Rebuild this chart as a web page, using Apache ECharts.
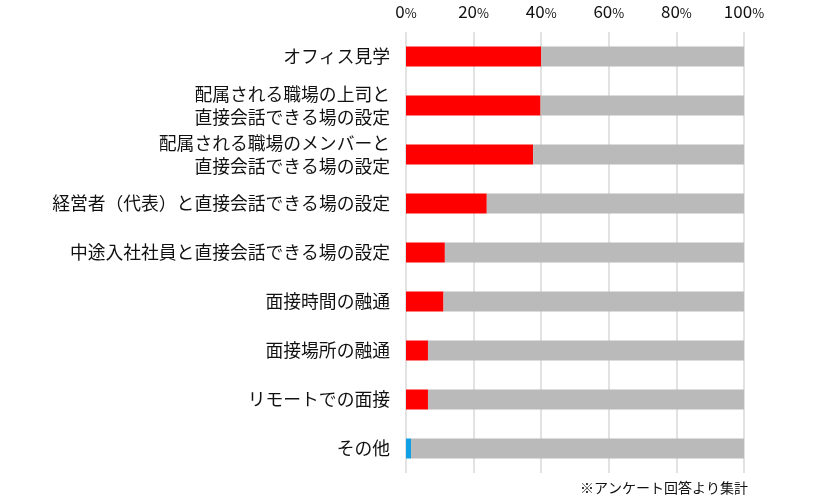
<!DOCTYPE html>
<html>
<head>
<meta charset="utf-8">
<script src="https://cdn.jsdelivr.net/npm/echarts@6/dist/echarts.min.js"></script>
<style>
html,body{margin:0;padding:0;background:#fff;}
#chart{width:820px;height:496px;}
</style>
</head>
<body>
<div id="chart"></div>
<script>
const categories = [
  'オフィス見学',
  '配属される職場の上司と\n直接会話できる場の設定',
  '配属される職場のメンバーと\n直接会話できる場の設定',
  '経営者（代表）と直接会話できる場の設定',
  '中途入社社員と直接会話できる場の設定',
  '面接時間の融通',
  '面接場所の融通',
  'リモートでの面接',
  'その他'
];
const redValues  = [40.0, 39.8, 37.6, 23.9, 11.5, 11.1, 6.5, 6.5, null];
const blueValues = [null, null, null, null, null, null, null, null, 1.5];
const restValues = [60.0, 60.2, 62.4, 76.1, 88.5, 88.9, 93.5, 93.5, 98.5];
const tickValues = [0, 20, 40, 60, 80, 100];
const footnote = '※アンケート回答より集計';

const FONT = '"Noto Sans CJK JP", "Noto Sans", sans-serif';
const chart = echarts.init(document.getElementById('chart'));
chart.setOption({
  animation: false,
  textStyle: { fontFamily: FONT },
  grid: { left: 406, right: 76, top: 32, bottom: 23, containLabel: false },
  xAxis: {
    type: 'value', position: 'top',
    min: tickValues[0], max: tickValues[tickValues.length - 1], interval: 20,
    axisLine: { show: false }, axisTick: { show: false },
    splitLine: { show: true, lineStyle: { color: '#d9d9d9', width: 1.5 } },
    axisLabel: {
      margin: 12,
      formatter: v => '{n|' + v + '}{p|%}',
      rich: {
        n: { fontSize: 17, color: '#111', fontFamily: FONT },
        p: { fontSize: 13, color: '#111', fontFamily: FONT, padding: [3, 0, 0, 0] }
      }
    }
  },
  yAxis: {
    type: 'category', inverse: true, data: categories,
    axisLine: { show: false }, axisTick: { show: false },
    axisLabel: { margin: 16, fontSize: 17.8, color: '#111', lineHeight: 23, align: 'right', fontFamily: FONT }
  },
  series: [
    { name: 'red', type: 'bar', stack: 's', data: redValues, barWidth: 20,
      itemStyle: { color: '#ff0000' } },
    { name: 'blue', type: 'bar', stack: 's', data: blueValues, barWidth: 20,
      itemStyle: { color: '#0fa0e6' } },
    { name: 'rest', type: 'bar', stack: 's', data: restValues, barWidth: 20,
      itemStyle: { color: '#bababa' } }
  ],
  graphic: [{
    type: 'text', right: 72, bottom: 1,
    style: { text: footnote, fontSize: 14, fill: '#111', fontFamily: FONT }
  }]
});
</script>
</body>
</html>
